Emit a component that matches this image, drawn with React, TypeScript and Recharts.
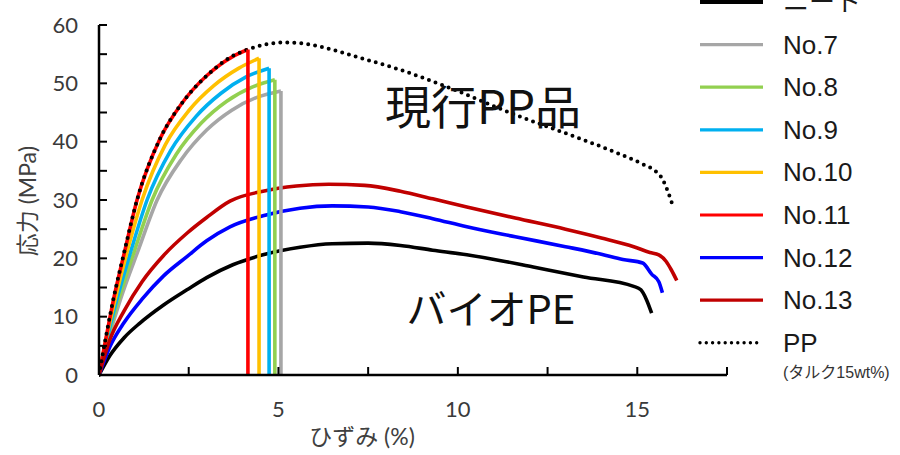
import React from "react";
import { LineChart, Line, XAxis, YAxis, Legend } from "recharts";

// strain (%) and stress (MPa)
const neatStrain = [0, 0.3, 0.7, 1.14, 1.8, 2.45, 3.0, 3.73, 4.57, 5.6, 6.5, 7.5, 8.4, 9.3, 10.25, 11.2, 12.1, 13.5, 14.9, 15.1, 15.25, 15.4];
const neatStress = [0, 3.3, 6.4, 8.9, 12.0, 14.6, 16.7, 18.9, 20.6, 21.9, 22.5, 22.6, 22.2, 21.4, 20.6, 19.6, 18.5, 16.8, 15.2, 14.6, 13.0, 10.6];

const no7Strain = [0, 0.3, 0.6, 1.1, 1.62, 2.3, 3.0, 3.7, 4.4, 5.07];
const no7Stress = [0, 7.0, 13.0, 21.5, 30.0, 37.0, 42.0, 45.4, 47.6, 48.7];

const no8Strain = [0, 0.25, 0.55, 1.0, 1.48, 2.15, 2.85, 3.55, 4.25, 4.9];
const no8Stress = [0, 6.5, 13.0, 21.5, 30.0, 37.8, 43.2, 46.9, 49.3, 50.6];

const no9Strain = [0, 0.25, 0.5, 0.9, 1.34, 2.0, 2.7, 3.4, 4.1, 4.74];
const no9Stress = [0, 6.8, 13.0, 21.5, 30.0, 38.5, 44.3, 48.3, 51.1, 52.6];

const no10Strain = [0, 0.2, 0.45, 0.8, 1.2, 1.85, 2.5, 3.2, 3.9, 4.46];
const no10Stress = [0, 6.2, 13.0, 21.5, 30.0, 39.5, 45.3, 49.6, 52.6, 54.3];

const no11Strain = [0, 0.2, 0.4, 0.7, 1.06, 1.7, 2.3, 3.0, 3.7, 4.15];
const no11Stress = [0, 6.5, 12.8, 20.8, 30.0, 40.5, 46.5, 51.3, 54.5, 55.8];

const no12Strain = [0, 0.3, 0.7, 1.2, 1.8, 2.45, 3.0, 3.65, 4.57, 5.6, 6.5, 7.5, 8.4, 9.3, 10.25, 11.6, 13.0, 14.0, 14.6, 15.15, 15.4, 15.6, 15.7];
const no12Stress = [0, 4.8, 9.0, 13.0, 17.0, 20.3, 23.0, 25.4, 27.3, 28.6, 29.0, 28.8, 28.0, 26.8, 25.4, 23.7, 22.0, 20.7, 19.8, 19.2, 17.3, 16.0, 14.1];

const no13Strain = [0, 0.3, 0.7, 1.2, 1.8, 2.45, 3.0, 3.65, 4.57, 5.5, 6.4, 7.4, 8.4, 9.3, 10.25, 11.6, 13.0, 14.0, 14.9, 15.35, 15.6, 15.8, 15.95, 16.1];
const no13Stress = [0, 6.0, 11.0, 16.0, 20.5, 24.3, 27.0, 29.8, 31.5, 32.4, 32.7, 32.5, 31.5, 30.2, 28.8, 26.9, 25.0, 23.5, 22.0, 21.0, 20.6, 19.5, 18.0, 16.2];

const ppStrain = [0, 0.2, 0.4, 0.7, 1.06, 1.7, 2.3, 3.0, 3.7, 4.15, 4.6, 5.1, 5.6, 6.15, 7.2, 8.4, 9.7, 11.6, 13.2, 14.5, 15.2, 15.5, 15.7, 15.85, 16.0];
const ppStress = [0, 6.8, 13.0, 21.0, 30.0, 40.5, 46.5, 51.3, 54.6, 55.8, 56.6, 57.0, 56.9, 56.3, 54.5, 52.3, 49.4, 44.6, 41.0, 37.9, 36.0, 35.0, 33.6, 31.5, 28.8];

const xTicks = [0, 2.5, 5, 7.5, 10, 12.5, 15, 17.5];
const yTicks = [0, 5, 10, 15, 20, 25, 30, 35, 40, 45, 50, 55, 60];

const zip = (xs: number[], ys: number[]) => xs.map((x, i) => ({ x, y: ys[i] }));

type Series = { name: string; pts: { x: number; y: number }[]; color: string; width: number; drop?: boolean; dotted?: boolean };

const series: Series[] = [
  { name: "ニート", pts: zip(neatStrain, neatStress), color: "#000000", width: 3.6 },
  { name: "No.7", pts: zip(no7Strain, no7Stress), color: "#A6A6A6", width: 3.6, drop: true },
  { name: "No.8", pts: zip(no8Strain, no8Stress), color: "#92D050", width: 3.6, drop: true },
  { name: "No.9", pts: zip(no9Strain, no9Stress), color: "#00B0F0", width: 3.6, drop: true },
  { name: "No.10", pts: zip(no10Strain, no10Stress), color: "#FFC000", width: 3.6, drop: true },
  { name: "No.11", pts: zip(no11Strain, no11Stress), color: "#FF0000", width: 3.6, drop: true },
  { name: "No.12", pts: zip(no12Strain, no12Stress), color: "#0000FF", width: 3.6 },
  { name: "No.13", pts: zip(no13Strain, no13Stress), color: "#C00000", width: 3.6 },
  { name: "PP", pts: zip(ppStrain, ppStress), color: "#000000", width: 4, dotted: true },
];

const tickFont = "Lato, 'Noto Sans CJK JP', sans-serif";
const jpFont = "'Noto Sans CJK JP', sans-serif";

function LegendBox() {
  return (
    <svg width={210} height={390} style={{ display: "block" }}>
      {series.map((s, i) => {
        const cy = 2 + i * 42.6;
        return (
          <g key={s.name}>
            <line
              x1={10}
              x2={73}
              y1={cy}
              y2={cy}
              stroke={s.color}
              strokeWidth={s.dotted ? 3.4 : i === 0 ? 4 : 3.2}
              strokeDasharray={s.dotted ? "0 6.3" : undefined}
              strokeLinecap={s.dotted ? "round" : "butt"}
            />
            <text x={93} y={cy} dominantBaseline="central" fontSize={26} fontFamily="'Liberation Sans', Arial, 'Noto Sans CJK JP', sans-serif" fill="#1a1a1a">
              {s.name}
            </text>
          </g>
        );
      })}
      <text x={93} y={372} dominantBaseline="central" fontSize={16} fontFamily="'Liberation Sans', 'Noto Sans CJK JP', sans-serif" fill="#333">
        (タルク15wt%)
      </text>
    </svg>
  );
}

export default function App() {
  return (
    <div style={{ position: "absolute", left: 0, top: 0, width: 900, height: 455, background: "#fff" }}>
      <LineChart width={900} height={455} margin={{ top: 25, right: 173, bottom: 50, left: 39 }}>
        <XAxis
          type="number"
          dataKey="x"
          domain={[0, 17.5]}
          ticks={xTicks}
          interval={0}
          tickFormatter={(v: number) => (v % 5 === 0 ? String(v) : "")}
          tickSize={-8}
          tickMargin={34}
          height={30}
          axisLine={{ stroke: "#000", strokeWidth: 2.5 }}
          tickLine={{ stroke: "#000", strokeWidth: 2 }}
          tick={{ fill: "#3a3a3a", fontSize: 22, fontFamily: tickFont }}
          allowDataOverflow
        />
        <YAxis
          type="number"
          domain={[0, 60]}
          ticks={yTicks}
          interval={0}
          tickFormatter={(v: number) => (v % 10 === 0 ? String(v) : "")}
          tickSize={-8}
          tickMargin={29}
          width={60}
          axisLine={{ stroke: "#000", strokeWidth: 2.5 }}
          tickLine={{ stroke: "#000", strokeWidth: 2 }}
          tick={{ fill: "#3a3a3a", fontSize: 22, fontFamily: tickFont }}
        />
        {series.map((s) => (
          <Line
            key={s.name}
            data={s.pts}
            dataKey="y"
            type="monotone"
            stroke={s.color}
            strokeWidth={s.width}
            strokeDasharray={s.dotted ? "0 7" : undefined}
            strokeLinecap={s.dotted ? "round" : "butt"}
            strokeLinejoin="round"
            dot={false}
            activeDot={false}
            isAnimationActive={false}
          />
        ))}
        {series
          .filter((s) => s.drop)
          .map((s) => {
            const last = s.pts[s.pts.length - 1];
            return (
              <Line
                key={s.name + "-drop"}
                data={[last, { x: last.x, y: 0 }]}
                dataKey="y"
                type="linear"
                stroke={s.color}
                strokeWidth={s.width}
                dot={false}
                activeDot={false}
                isAnimationActive={false}
              />
            );
          })}
        <Legend
          layout="horizontal"
          verticalAlign="middle"
          align="center"
          content={() => <LegendBox />}
          wrapperStyle={{ position: "absolute", left: 690, top: 0, width: 210, height: 390 }}
        />
      </LineChart>
      <svg width={900} height={455} style={{ position: "absolute", left: 0, top: 0, pointerEvents: "none" }}>
        <text x={483} y={104} textAnchor="middle" dominantBaseline="central" fontSize={46} fontFamily={jpFont} fill="#111">
          現行PP品
        </text>
        <text x={491} y={307} textAnchor="middle" dominantBaseline="central" fontSize={40} fontFamily={jpFont} fill="#111">
          バイオPE
        </text>
        <text x={362} y={436} textAnchor="middle" dominantBaseline="central" fontSize={23} fontFamily={tickFont} fill="#404040">
          ひずみ (%)
        </text>
        <text
          x={27}
          y={201}
          textAnchor="middle"
          dominantBaseline="central"
          fontSize={23}
          fontFamily={tickFont}
          fill="#404040"
          transform="rotate(-90 27 201)"
        >
          応力 (MPa)
        </text>
      </svg>
    </div>
  );
}
